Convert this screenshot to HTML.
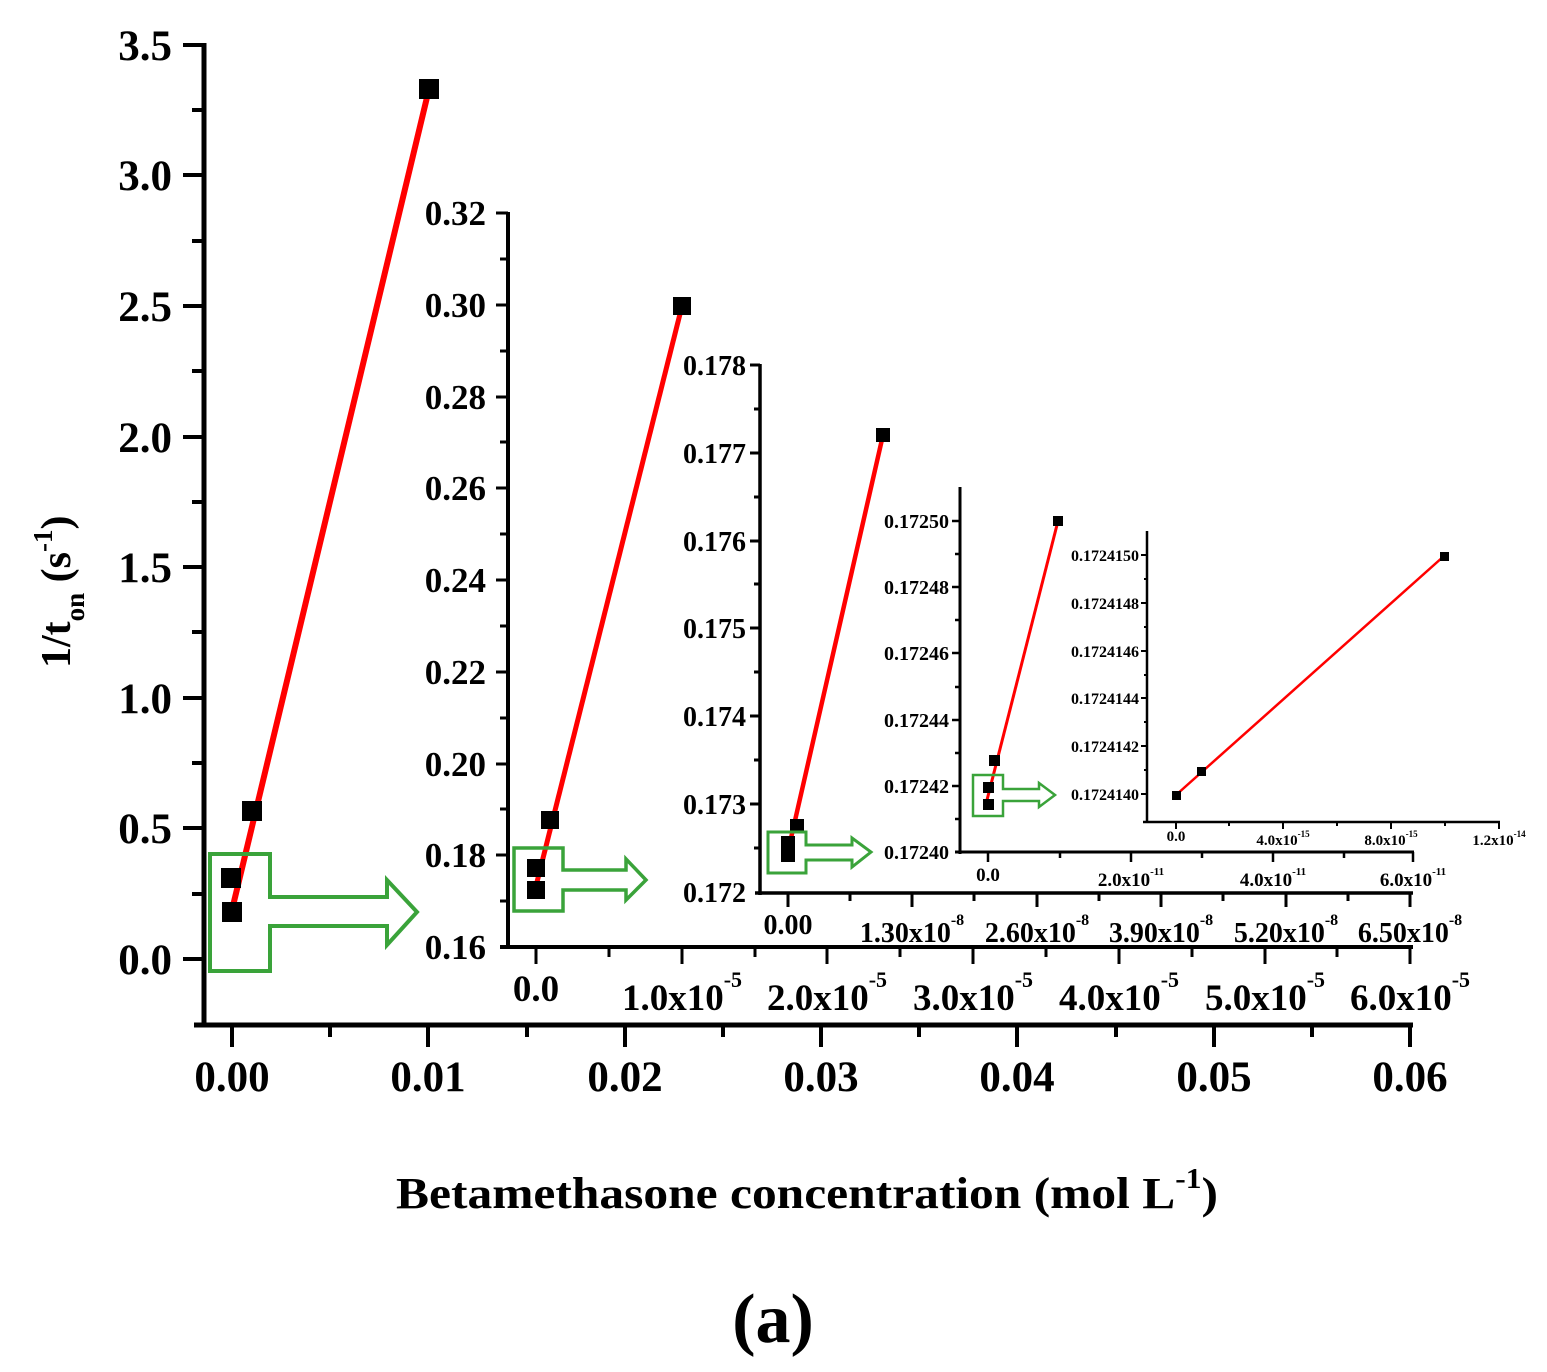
<!DOCTYPE html>
<html><head><meta charset="utf-8"><style>
html,body{margin:0;padding:0;background:#fff}
svg{display:block}
text{font-family:"Liberation Serif",serif;font-weight:bold;fill:#000}
</style></head><body>
<svg width="1547" height="1372" viewBox="0 0 1547 1372" xmlns="http://www.w3.org/2000/svg">
<rect width="1547" height="1372" fill="#fff"/>

<!-- ===== MAIN PLOT ===== -->
<g stroke="#000" stroke-width="5" fill="none">
<line x1="204" y1="43" x2="204" y2="1027"/>
<line x1="194" y1="1025" x2="1413" y2="1025"/>
</g>
<g stroke="#000" stroke-width="4">
<line x1="183" y1="959" x2="204" y2="959"/><line x1="183" y1="828" x2="204" y2="828"/>
<line x1="183" y1="698" x2="204" y2="698"/><line x1="183" y1="567" x2="204" y2="567"/>
<line x1="183" y1="437" x2="204" y2="437"/><line x1="183" y1="306" x2="204" y2="306"/>
<line x1="183" y1="175" x2="204" y2="175"/><line x1="183" y1="45" x2="204" y2="45"/>
<line x1="192" y1="894" x2="204" y2="894"/><line x1="192" y1="763" x2="204" y2="763"/>
<line x1="192" y1="632" x2="204" y2="632"/><line x1="192" y1="502" x2="204" y2="502"/>
<line x1="192" y1="371" x2="204" y2="371"/><line x1="192" y1="241" x2="204" y2="241"/>
<line x1="192" y1="110" x2="204" y2="110"/>
<line x1="232" y1="1025" x2="232" y2="1047"/><line x1="428" y1="1025" x2="428" y2="1047"/>
<line x1="625" y1="1025" x2="625" y2="1047"/><line x1="821" y1="1025" x2="821" y2="1047"/>
<line x1="1017" y1="1025" x2="1017" y2="1047"/><line x1="1214" y1="1025" x2="1214" y2="1047"/>
<line x1="1410" y1="1025" x2="1410" y2="1047"/>
<line x1="330" y1="1025" x2="330" y2="1037"/><line x1="527" y1="1025" x2="527" y2="1037"/>
<line x1="723" y1="1025" x2="723" y2="1037"/><line x1="919" y1="1025" x2="919" y2="1037"/>
<line x1="1116" y1="1025" x2="1116" y2="1037"/><line x1="1312" y1="1025" x2="1312" y2="1037"/>
</g>
<g font-size="43" text-anchor="end">
<text x="172" y="974">0.0</text><text x="172" y="843">0.5</text>
<text x="172" y="713">1.0</text><text x="172" y="582">1.5</text>
<text x="172" y="452">2.0</text><text x="172" y="321">2.5</text>
<text x="172" y="190">3.0</text><text x="172" y="60">3.5</text>
</g>
<g font-size="43" text-anchor="middle">
<text x="232" y="1091">0.00</text><text x="428" y="1091">0.01</text>
<text x="625" y="1091">0.02</text><text x="821" y="1091">0.03</text>
<text x="1017" y="1091">0.04</text><text x="1214" y="1091">0.05</text>
<text x="1410" y="1091">0.06</text>
</g>
<text transform="translate(70,668) rotate(-90)" font-size="42">1/t<tspan font-size="27" dy="14">on</tspan><tspan dy="-14"> (s</tspan><tspan font-size="27" dy="-18">-1</tspan><tspan dy="18">)</tspan></text>
<text x="807" y="1208" font-size="44" text-anchor="middle" textLength="822" lengthAdjust="spacingAndGlyphs">Betamethasone concentration (mol L<tspan font-size="28" dy="-20">-1</tspan><tspan dy="20">)</tspan></text>
<text x="773" y="1342" font-size="70" text-anchor="middle">(a)</text>

<line x1="232" y1="910" x2="429" y2="89" stroke="#f00" stroke-width="6"/>
<g fill="#000">
<rect x="222" y="902" width="20" height="20"/><rect x="221" y="868" width="20" height="20"/>
<rect x="242" y="801" width="20" height="20"/><rect x="419" y="79" width="20" height="20"/>
</g>
<path d="M210,854 H270 V897 H387 V880 L417,912 L387,945 V926 H270 V971 H210 Z" fill="none" stroke="#3aa33a" stroke-width="4"/>

<!-- ===== INSET 1 ===== -->
<g stroke="#000" stroke-width="4" fill="none">
<line x1="508" y1="212" x2="508" y2="949"/>
<line x1="500" y1="947" x2="1413" y2="947"/>
</g>
<g stroke="#000" stroke-width="3">
<line x1="496" y1="213" x2="508" y2="213"/><line x1="496" y1="305" x2="508" y2="305"/>
<line x1="496" y1="397" x2="508" y2="397"/><line x1="496" y1="488" x2="508" y2="488"/>
<line x1="496" y1="580" x2="508" y2="580"/><line x1="496" y1="672" x2="508" y2="672"/>
<line x1="496" y1="764" x2="508" y2="764"/><line x1="496" y1="855" x2="508" y2="855"/>
<line x1="500" y1="259" x2="508" y2="259"/><line x1="500" y1="351" x2="508" y2="351"/>
<line x1="500" y1="442" x2="508" y2="442"/><line x1="500" y1="534" x2="508" y2="534"/>
<line x1="500" y1="626" x2="508" y2="626"/><line x1="500" y1="718" x2="508" y2="718"/>
<line x1="500" y1="809" x2="508" y2="809"/><line x1="500" y1="901" x2="508" y2="901"/>
<line x1="536" y1="947" x2="536" y2="964"/><line x1="682" y1="947" x2="682" y2="964"/>
<line x1="827" y1="947" x2="827" y2="964"/><line x1="973" y1="947" x2="973" y2="964"/>
<line x1="1119" y1="947" x2="1119" y2="964"/><line x1="1265" y1="947" x2="1265" y2="964"/>
<line x1="1410" y1="947" x2="1410" y2="964"/>
<line x1="609" y1="947" x2="609" y2="957"/><line x1="755" y1="947" x2="755" y2="957"/>
<line x1="900" y1="947" x2="900" y2="957"/><line x1="1046" y1="947" x2="1046" y2="957"/>
<line x1="1192" y1="947" x2="1192" y2="957"/><line x1="1337" y1="947" x2="1337" y2="957"/>
</g>
<g font-size="35" text-anchor="end">
<text x="486" y="959">0.16</text><text x="486" y="867">0.18</text>
<text x="486" y="776">0.20</text><text x="486" y="684">0.22</text>
<text x="486" y="592">0.24</text><text x="486" y="500">0.26</text>
<text x="486" y="409">0.28</text><text x="486" y="317">0.30</text>
<text x="486" y="225">0.32</text>
</g>
<g font-size="37" text-anchor="middle">
<text x="536" y="1001">0.0</text>
<text x="682" y="1010">1.0x10<tspan font-size="22" dy="-23">-5</tspan></text>
<text x="827" y="1010">2.0x10<tspan font-size="22" dy="-23">-5</tspan></text>
<text x="973" y="1010">3.0x10<tspan font-size="22" dy="-23">-5</tspan></text>
<text x="1119" y="1010">4.0x10<tspan font-size="22" dy="-23">-5</tspan></text>
<text x="1265" y="1010">5.0x10<tspan font-size="22" dy="-23">-5</tspan></text>
<text x="1410" y="1010">6.0x10<tspan font-size="22" dy="-23">-5</tspan></text>
</g>
<line x1="536" y1="886" x2="682" y2="306" stroke="#f00" stroke-width="5"/>
<g fill="#000">
<rect x="527" y="881" width="18" height="18"/><rect x="527" y="859" width="18" height="18"/>
<rect x="541" y="811" width="18" height="18"/><rect x="673" y="297" width="18" height="18"/>
</g>
<path d="M514,848 H563 V870 H626 V859 L646,880 L626,900 V890 H563 V911 H514 Z" fill="none" stroke="#3aa33a" stroke-width="3.5"/>

<!-- ===== INSET 2 ===== -->
<g stroke="#000" stroke-width="3.5" fill="none">
<line x1="760" y1="364" x2="760" y2="895"/>
<line x1="755" y1="893" x2="1413" y2="893"/>
</g>
<g stroke="#000" stroke-width="3">
<line x1="750" y1="365" x2="760" y2="365"/><line x1="750" y1="453" x2="760" y2="453"/>
<line x1="750" y1="541" x2="760" y2="541"/><line x1="750" y1="628" x2="760" y2="628"/>
<line x1="750" y1="716" x2="760" y2="716"/><line x1="750" y1="804" x2="760" y2="804"/>
<line x1="754" y1="409" x2="760" y2="409"/><line x1="754" y1="497" x2="760" y2="497"/>
<line x1="754" y1="584" x2="760" y2="584"/><line x1="754" y1="672" x2="760" y2="672"/>
<line x1="754" y1="760" x2="760" y2="760"/><line x1="754" y1="848" x2="760" y2="848"/>
<line x1="788" y1="893" x2="788" y2="907"/><line x1="912" y1="893" x2="912" y2="907"/>
<line x1="1037" y1="893" x2="1037" y2="907"/><line x1="1161" y1="893" x2="1161" y2="907"/>
<line x1="1286" y1="893" x2="1286" y2="907"/><line x1="1410" y1="893" x2="1410" y2="907"/>
<line x1="850" y1="893" x2="850" y2="901"/><line x1="974" y1="893" x2="974" y2="901"/>
<line x1="1099" y1="893" x2="1099" y2="901"/><line x1="1223" y1="893" x2="1223" y2="901"/>
<line x1="1348" y1="893" x2="1348" y2="901"/>
</g>
<g font-size="28" text-anchor="end">
<text x="746" y="902">0.172</text><text x="746" y="814">0.173</text>
<text x="746" y="726">0.174</text><text x="746" y="638">0.175</text>
<text x="746" y="551">0.176</text><text x="746" y="463">0.177</text>
<text x="746" y="375">0.178</text>
</g>
<g font-size="28" text-anchor="middle">
<text x="788" y="934">0.00</text>
<text x="912" y="942">1.30x10<tspan font-size="16" dy="-17">-8</tspan></text>
<text x="1037" y="942">2.60x10<tspan font-size="16" dy="-17">-8</tspan></text>
<text x="1161" y="942">3.90x10<tspan font-size="16" dy="-17">-8</tspan></text>
<text x="1286" y="942">5.20x10<tspan font-size="16" dy="-17">-8</tspan></text>
<text x="1410" y="942">6.50x10<tspan font-size="16" dy="-17">-8</tspan></text>
</g>
<line x1="786" y1="860" x2="883" y2="435" stroke="#f00" stroke-width="4.5"/>
<g fill="#000">
<rect x="781" y="848" width="14" height="14"/><rect x="781" y="836" width="14" height="14"/>
<rect x="790" y="819" width="14" height="14"/><rect x="876" y="428" width="14" height="14"/>
</g>
<path d="M768,832 H806 V845 H852 V838 L871,852 L852,867 V860 H806 V873 H768 Z" fill="none" stroke="#3aa33a" stroke-width="3"/>

<!-- ===== INSET 3 ===== -->
<g stroke="#000" stroke-width="3" fill="none">
<line x1="960" y1="487" x2="960" y2="854"/>
<line x1="955" y1="852" x2="1414" y2="852"/>
</g>
<g stroke="#000" stroke-width="2.5">
<line x1="952" y1="521" x2="960" y2="521"/><line x1="952" y1="587" x2="960" y2="587"/>
<line x1="952" y1="653" x2="960" y2="653"/><line x1="952" y1="720" x2="960" y2="720"/>
<line x1="952" y1="786" x2="960" y2="786"/>
<line x1="955" y1="554" x2="960" y2="554"/><line x1="955" y1="620" x2="960" y2="620"/>
<line x1="955" y1="687" x2="960" y2="687"/><line x1="955" y1="753" x2="960" y2="753"/>
<line x1="955" y1="819" x2="960" y2="819"/>
<line x1="988" y1="852" x2="988" y2="862"/><line x1="1131" y1="852" x2="1131" y2="862"/>
<line x1="1273" y1="852" x2="1273" y2="862"/><line x1="1413" y1="852" x2="1413" y2="862"/>
<line x1="1060" y1="852" x2="1060" y2="858"/><line x1="1202" y1="852" x2="1202" y2="858"/>
<line x1="1344" y1="852" x2="1344" y2="858"/>
</g>
<g font-size="20" text-anchor="end">
<text x="949" y="859">0.17240</text><text x="949" y="793">0.17242</text>
<text x="949" y="727">0.17244</text><text x="949" y="660">0.17246</text>
<text x="949" y="594">0.17248</text><text x="949" y="528">0.17250</text>
</g>
<g font-size="19" text-anchor="middle">
<text x="988" y="881">0.0</text>
<text x="1131" y="886">2.0x10<tspan font-size="11" dy="-11">-11</tspan></text>
<text x="1273" y="886">4.0x10<tspan font-size="11" dy="-11">-11</tspan></text>
<text x="1413" y="886">6.0x10<tspan font-size="11" dy="-11">-11</tspan></text>
</g>
<line x1="987" y1="800" x2="1058" y2="521" stroke="#f00" stroke-width="3"/>
<g fill="#000">
<rect x="983" y="799" width="11" height="11"/><rect x="983" y="782" width="11" height="11"/>
<rect x="989" y="755" width="11" height="11"/><rect x="1053" y="516" width="10" height="10"/>
</g>
<path d="M973,775 H1003 V789 H1039 V783 L1055,795 L1039,807 V801 H1003 V816 H973 Z" fill="none" stroke="#3aa33a" stroke-width="2.5"/>

<!-- ===== INSET 4 ===== -->
<g stroke="#000" stroke-width="2.5" fill="none">
<line x1="1147" y1="531" x2="1147" y2="823"/>
<line x1="1143" y1="822" x2="1500" y2="822"/>
</g>
<g stroke="#000" stroke-width="2">
<line x1="1141" y1="555" x2="1147" y2="555"/><line x1="1141" y1="603" x2="1147" y2="603"/>
<line x1="1141" y1="651" x2="1147" y2="651"/><line x1="1141" y1="698" x2="1147" y2="698"/>
<line x1="1141" y1="746" x2="1147" y2="746"/><line x1="1141" y1="794" x2="1147" y2="794"/>
<line x1="1144" y1="579" x2="1147" y2="579"/><line x1="1144" y1="627" x2="1147" y2="627"/>
<line x1="1144" y1="675" x2="1147" y2="675"/><line x1="1144" y1="722" x2="1147" y2="722"/>
<line x1="1144" y1="770" x2="1147" y2="770"/>
<line x1="1176" y1="822" x2="1176" y2="829"/><line x1="1283" y1="822" x2="1283" y2="829"/>
<line x1="1391" y1="822" x2="1391" y2="829"/><line x1="1499" y1="822" x2="1499" y2="829"/>
<line x1="1229" y1="822" x2="1229" y2="826"/><line x1="1337" y1="822" x2="1337" y2="826"/>
<line x1="1445" y1="822" x2="1445" y2="826"/>
</g>
<g font-size="16" text-anchor="end">
<text x="1139" y="800">0.1724140</text><text x="1139" y="752">0.1724142</text>
<text x="1139" y="704">0.1724144</text><text x="1139" y="657">0.1724146</text>
<text x="1139" y="609">0.1724148</text><text x="1139" y="561">0.1724150</text>
</g>
<g font-size="15" text-anchor="middle">
<text x="1176" y="841">0.0</text>
<text x="1283" y="845">4.0x10<tspan font-size="9" dy="-8">-15</tspan></text>
<text x="1391" y="845">8.0x10<tspan font-size="9" dy="-8">-15</tspan></text>
<text x="1499" y="845">1.2x10<tspan font-size="9" dy="-8">-14</tspan></text>
</g>
<line x1="1176" y1="795" x2="1444" y2="556" stroke="#f00" stroke-width="2.5"/>
<g fill="#000">
<rect x="1172" y="791" width="9" height="9"/><rect x="1197" y="767" width="9" height="9"/>
<rect x="1440" y="552" width="9" height="9"/>
</g>
</svg>
</body></html>
